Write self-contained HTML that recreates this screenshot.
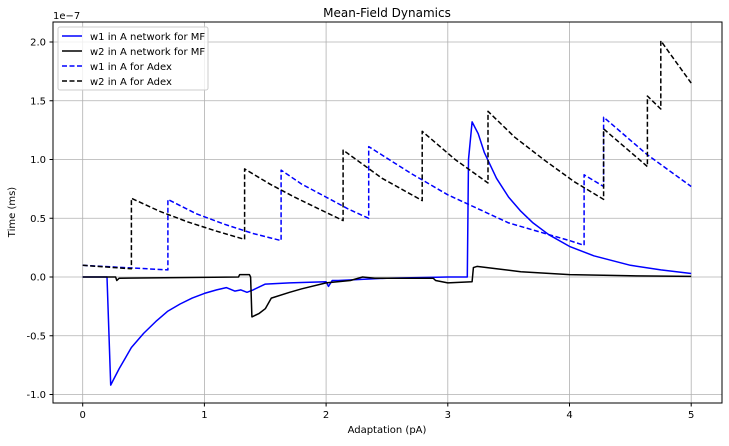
<!DOCTYPE html>
<html><head><meta charset="utf-8"><style>
body{margin:0;background:#fff;font-family:"Liberation Sans","DejaVu Sans",sans-serif}
svg text{font-family:"DejaVu Sans","Liberation Sans",sans-serif}
</style></head><body>
<svg id="chart" width="729" height="441" viewBox="0 0 729 441">
<text x="387" y="17" font-size="12" text-anchor="middle">Mean-Field Dynamics</text>
<text x="53" y="19" font-size="10">1e−7</text>
<g id="grid"></g><g id="series"></g><g id="ticks"></g>
<rect x="53" y="22" width="669" height="381" fill="none" stroke="#000" stroke-width="1"/>
<text x="387" y="433" font-size="10" text-anchor="middle">Adaptation (pA)</text>
<text x="15" y="212" font-size="10" text-anchor="middle" transform="rotate(-90 15 212)">Time (ms)</text>
<g>
<rect x="58" y="27" width="150" height="63" fill="#fff" fill-opacity="0.8" stroke="#ccc" rx="2"/>
<line x1="62" y1="36" x2="82" y2="36" stroke="#0000ff" stroke-width="1.5"/><text x="90" y="40" font-size="10">w1 in A network for MF</text>
<line x1="62" y1="51" x2="82" y2="51" stroke="#000" stroke-width="1.5"/><text x="90" y="55" font-size="10">w2 in A network for MF</text>
<line x1="62" y1="66" x2="82" y2="66" stroke="#0000ff" stroke-width="1.5" stroke-dasharray="5,2.5"/><text x="90" y="70" font-size="10">w1 in A for Adex</text>
<line x1="62" y1="81" x2="82" y2="81" stroke="#000" stroke-width="1.5" stroke-dasharray="5,2.5"/><text x="90" y="85" font-size="10">w2 in A for Adex</text>
</g>
</svg>
<script>
const xTicks=[0,1,2,3,4,5];
const yTicks=[-1.0,-0.5,0.0,0.5,1.0,1.5,2.0];
const w1MFx=[0,0.2,0.23,0.25,0.3,0.35,0.4,0.5,0.6,0.7,0.8,0.9,1.0,1.1,1.18,1.25,1.3,1.35,1.4,1.5,1.7,2.0,2.02,2.05,2.1,2.5,3.0,3.16,3.17,3.2,3.25,3.3,3.4,3.5,3.6,3.7,3.83,4.0,4.2,4.5,4.75,5.0];
const w1MFy=[0,0,-0.92,-0.88,-0.78,-0.69,-0.6,-0.48,-0.38,-0.29,-0.23,-0.18,-0.14,-0.11,-0.09,-0.12,-0.11,-0.13,-0.11,-0.06,-0.05,-0.04,-0.08,-0.03,-0.03,-0.01,0,0,1.0,1.32,1.22,1.06,0.84,0.68,0.56,0.46,0.36,0.26,0.18,0.10,0.06,0.03];
const w2MFx=[0,0.27,0.28,0.3,1.28,1.29,1.37,1.38,1.39,1.45,1.5,1.55,1.7,1.8,2.0,2.2,2.3,2.4,2.88,2.9,3.0,3.2,3.21,3.24,3.4,3.6,4.0,4.5,5.0];
const w2MFy=[0,0,-0.03,-0.01,0,0.02,0.02,0,-0.34,-0.31,-0.27,-0.18,-0.13,-0.1,-0.05,-0.03,0,-0.01,-0.01,-0.03,-0.05,-0.04,0.08,0.09,0.07,0.045,0.02,0.01,0.005];
const w1ADx=[0,0.7,0.7,0.93,1.16,1.4,1.63,1.63,1.8,2.0,2.18,2.35,2.35,2.7,3.0,3.5,4.0,4.12,4.12,4.28,4.28,4.64,5.0];
const w1ADy=[0.1,0.06,0.66,0.54,0.45,0.37,0.31,0.91,0.79,0.68,0.58,0.5,1.11,0.88,0.70,0.46,0.31,0.27,0.87,0.77,1.36,1.04,0.77];
const w2ADx=[0,0.4,0.4,0.63,0.86,1.1,1.33,1.33,1.54,1.74,1.94,2.14,2.14,2.46,2.79,2.79,3.06,3.33,3.33,3.55,3.8,4.04,4.28,4.28,4.64,4.64,4.75,4.75,5.0];
const w2ADy=[0.1,0.07,0.67,0.56,0.47,0.39,0.32,0.92,0.79,0.68,0.58,0.48,1.08,0.84,0.65,1.24,1.0,0.80,1.41,1.19,0.99,0.81,0.66,1.26,0.94,1.54,1.43,2.01,1.65];
const X=v=>82.7+v*121.7, Y=v=>277-v*117.5;
const NS='http://www.w3.org/2000/svg';
const g=document.getElementById('grid'),t=document.getElementById('ticks'),s=document.getElementById('series');
function mk(tag,a,p){const e=document.createElementNS(NS,tag);for(const k in a)e.setAttribute(k,a[k]);p.appendChild(e);return e;}
xTicks.forEach(v=>{
 const l=mk('line',{x1:X(v),x2:X(v),y1:22,y2:403,stroke:'#b0b0b0','stroke-width':0.8},g);
 
 
 mk('line',{x1:X(v),x2:X(v),y1:403,y2:406.5,stroke:'#000'},t);
 const tx=mk('text',{x:X(v),y:418,'font-size':10,'text-anchor':'middle'},t);tx.textContent=v;
 
 
});
yTicks.forEach(v=>{
 const l=mk('line',{x1:53,x2:722,y1:Y(v),y2:Y(v),stroke:'#b0b0b0','stroke-width':0.8},g);
 
 
 mk('line',{x1:49.5,x2:53,y1:Y(v),y2:Y(v),stroke:'#000'},t);
 const tx=mk('text',{x:46,y:Y(v)+3.5,'font-size':10,'text-anchor':'end'},t);tx.textContent=v.toFixed(1);
 
 
});
function line(xs,ys,col,dash,name){
 const p=mk('path',{d:xs.map((v,i)=>(i?'L':'M')+X(v).toFixed(1)+','+Y(ys[i]).toFixed(1)).join(''),fill:'none',stroke:col,'stroke-width':1.5,'stroke-dasharray':dash||'none','stroke-linejoin':'round'},s);
 
 
}
line(w1MFx,w1MFy,'#0000ff',null,'w1-mf-line');
line(w2MFx,w2MFy,'#000000',null,'w2-mf-line');
line(w1ADx,w1ADy,'#0000ff','5,2.5','w1-adex-line');
line(w2ADx,w2ADy,'#000000','5,2.5','w2-adex-line');
</script>
</body></html>
